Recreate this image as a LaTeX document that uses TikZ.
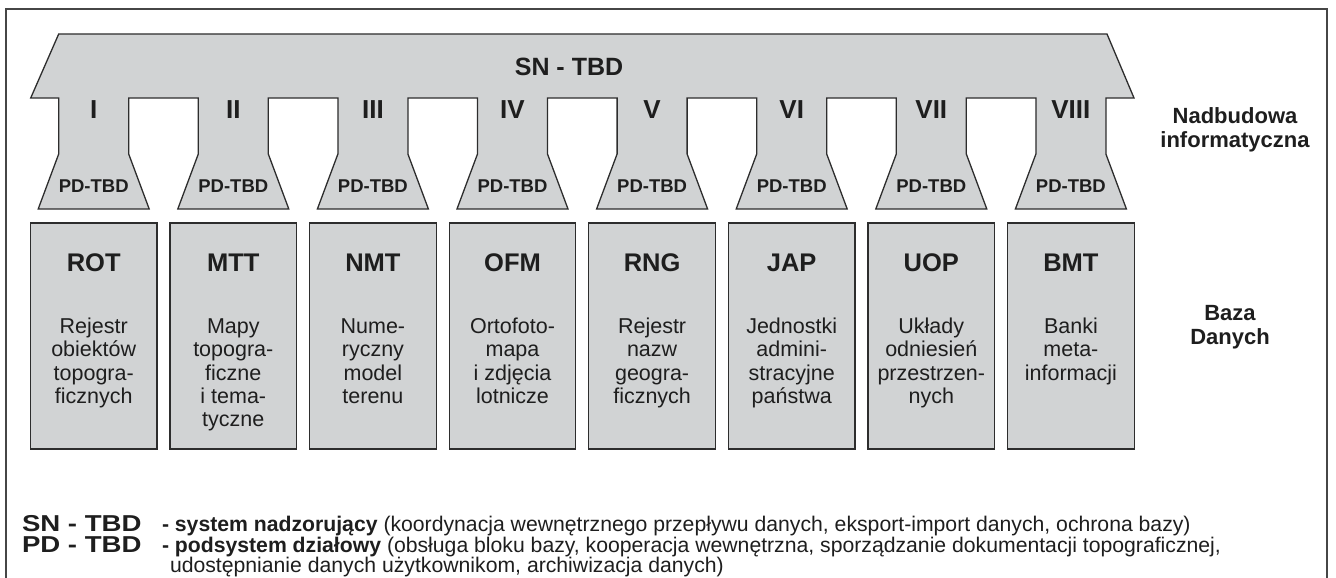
\documentclass[tikz,border=0pt]{standalone}
\usepackage{fontspec}
\setmainfont{Liberation Sans}
\definecolor{shapefill}{RGB}{209,211,212}
\definecolor{linecol}{RGB}{45,45,45}
\definecolor{framecol}{RGB}{70,70,70}
\definecolor{textcol}{RGB}{30,30,30}
\newcommand\colx[1]{93.7+139.6*(#1-1)}
\newcommand\dbblock[3]{%
  \node[dbbox] (b#1) at ({\colx{#1}},336) {};
  \node[abbr] (a#1) at ({\colx{#1}},271.7) {#2};
  \foreach \myline [count=\myk] in {#3} {
    \node[desc] (d#1-\myk) at ({\colx{#1}},{333.3+23.4*(\myk-1)}) {\myline};
  }
}
\begin{document}
\begin{tikzpicture}[x=1pt,y=-1pt,
  shapeline/.style={draw=linecol, line width=1.3pt, fill=shapefill, line join=miter},
  dbbox/.style={draw=linecol, line width=1.3pt, fill=shapefill, minimum width=126.6pt, minimum height=226pt, inner sep=0pt},
  txt/.style={inner sep=0pt, outer sep=0pt, text=textcol, anchor=base},
  abbr/.style={txt, font=\fontsize{25.5}{27}\selectfont\bfseries},
  desc/.style={txt, font=\fontsize{21.5}{23}\selectfont},
  roman/.style={txt, font=\fontsize{26}{28}\selectfont\bfseries},
  pdlab/.style={txt, font=\fontsize{18.5}{20}\selectfont\bfseries},
  side/.style={txt, font=\fontsize{22}{24}\selectfont\bfseries},
  legbold/.style={txt, anchor=base west, text height=16.5pt, text depth=0pt, font=\fontsize{23}{25}\selectfont\bfseries},
  legtext/.style={txt, anchor=base west, text height=15pt, text depth=4pt, font=\fontsize{21.2}{23}\selectfont},
]
\useasboundingbox (0,0) rectangle (1336,578);
\clip (0,0) rectangle (1336,578);
% frame (open at the bottom edge)
\draw[framecol, line width=1.5pt] (6,600) -- (6,9) -- (1327,9) -- (1327,600);

% superstructure shape
\path[shapeline] (58.7,34) -- (1107,34) -- (1134,98)
  \foreach \i in {8,7,...,1} {
    -- ({\colx{\i}+35},98) -- ({\colx{\i}+35},154) -- ({\colx{\i}+55.5},209)
    -- ({\colx{\i}-55.5},209) -- ({\colx{\i}-35},154) -- ({\colx{\i}-35},98)
  }
  -- (30.7,98) -- cycle;

\node[txt, font=\fontsize{25}{27}\selectfont\bfseries] (sntbd) at (569,76) {SN - TBD};

\foreach \i/\r in {1/I,2/II,3/III,4/IV,5/V,6/VI,7/VII,8/VIII} {
  \node[roman] (r\i) at ({\colx{\i}},118) {\r};
  \node[pdlab] (pd\i) at ({\colx{\i}},192.7) {PD-TBD};
}

% database blocks
\dbblock{1}{ROT}{Rejestr,obiektów,topogra-,ficznych}
\dbblock{2}{MTT}{Mapy,topogra-,ficzne,i tema-,tyczne}
\dbblock{3}{NMT}{Nume-,ryczny,model,terenu}
\dbblock{4}{OFM}{Ortofoto-,mapa,i zdjęcia,lotnicze}
\dbblock{5}{RNG}{Rejestr,nazw,geogra-,ficznych}
\dbblock{6}{JAP}{Jednostki,admini-,stracyjne,państwa}
\dbblock{7}{UOP}{Układy,odniesień,przestrzen-,nych}
\dbblock{8}{BMT}{Banki,meta-,informacji}

% side labels
\node[side] (nad1) at (1235,123) {Nadbudowa};
\node[side] (nad2) at (1235,147) {informatyczna};
\node[side] (baz1) at (1230,320) {Baza};
\node[side] (baz2) at (1230,344) {Danych};

% legend
\node[legbold] (lsn) at (22,531) {\scalebox{1.2}[1]{SN - TBD}};
\node[legtext] (lsnd) at (162,531) {\textbf{- system nadzorujący} (koordynacja wewnętrznego przepływu danych, eksport-import danych, ochrona bazy)};
\node[legbold] (lpd) at (22,552) {\scalebox{1.2}[1]{PD - TBD}};
\node[legtext] (lpdd) at (162,552) {\textbf{- podsystem działowy} (obsługa bloku bazy, kooperacja wewnętrzna, sporządzanie dokumentacji topograficznej,};
\node[legtext] (lpdd2) at (170,572) {udostępnianie danych użytkownikom, archiwizacja danych)};
\end{tikzpicture}
\end{document}
